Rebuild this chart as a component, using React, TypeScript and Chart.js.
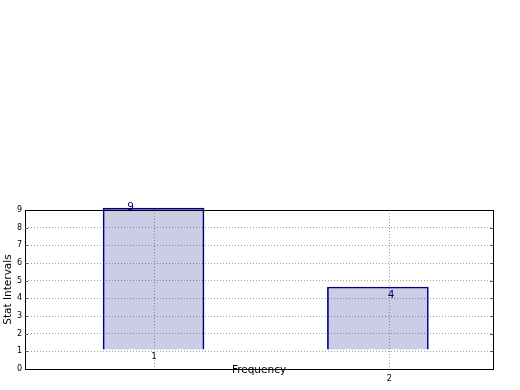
import React, { useEffect, useRef } from 'react';
import { Chart, registerables } from 'chart.js';

Chart.register(...registerables);

// ---- data ----
const barX = [0.998, 1.951];
const barBase = [1.11, 1.11];
const barTop = [9.11, 4.64];
const valueLabels = ['9', '4'];
const valueLabelX = [0.886, 1.993];
const valueLabelY = [9, 4];
const xTicks = [1, 2];
const xTickLabels = ['1', '2'];
const yMin = 0;
const yMax = 9;
const xMin = 0.452;
const xMax = 2.44;

const FONT = "'DejaVu Sans', 'Liberation Sans', sans-serif";

export default function App() {
  const ref = useRef<HTMLCanvasElement>(null);

  useEffect(() => {
    const canvas = ref.current;
    if (!canvas) return;

    const overlay = {
      id: 'overlay',
      afterDatasetsDraw(chart: any) {
        const { ctx, chartArea: a, scales } = chart;
        const xs = scales.x;
        const ys = scales.y;
        ctx.save();
        // frame
        ctx.strokeStyle = '#000';
        ctx.lineWidth = 1;
        ctx.setLineDash([]);
        const L = Math.round(a.left), T = Math.round(a.top);
        const R = Math.round(a.right), B = Math.round(a.bottom);
        ctx.strokeRect(L + 0.5, T + 0.5, R - L, B - T);
        // inward y tick marks
        ctx.strokeStyle = '#555';
        ys.ticks.forEach((t: any) => {
          if (t.value === yMin || t.value === yMax) return;
          const py = Math.round(ys.getPixelForValue(t.value)) + 0.5;
          ctx.beginPath();
          ctx.moveTo(L, py);
          ctx.lineTo(L + 3, py);
          ctx.moveTo(R - 3, py);
          ctx.lineTo(R, py);
          ctx.stroke();
        });
        // value labels
        ctx.fillStyle = '#000080';
        ctx.font = `10.5px ${FONT}`;
        ctx.textAlign = 'left';
        ctx.textBaseline = 'alphabetic';
        valueLabels.forEach((txt, i) => {
          ctx.fillText(txt, xs.getPixelForValue(valueLabelX[i]), ys.getPixelForValue(valueLabelY[i]));
        });
        // x tick labels
        ctx.fillStyle = '#000';
        ctx.font = `8px ${FONT}`;
        ctx.textAlign = 'center';
        ctx.textBaseline = 'middle';
        xTickLabels.forEach((txt, i) => {
          const px = xs.getPixelForValue(xTicks[i]);
          const py = i === 0 ? ys.getPixelForValue(barBase[0]) + 7.6 : a.bottom + 10;
          ctx.fillText(txt, px, py);
        });
        ctx.restore();
      },
    };

    const chart = new Chart(canvas, {
      type: 'bar',
      data: {
        datasets: [
          {
            data: barX.map((x, i) => ({ x, y: [barBase[i], barTop[i]] })) as any,
            backgroundColor: 'rgba(0,0,128,0.2)',
            borderColor: '#000080',
            borderWidth: 1,
            borderSkipped: 'start',
            barThickness: 101,
            clip: false as any,
          },
        ],
      },
      options: {
        animation: false,
        responsive: false,
        devicePixelRatio: 1,
        layout: { padding: { left: 0, right: 27, top: 210, bottom: 0 } },
        plugins: {
          legend: { display: false },
          tooltip: { enabled: false },
        },
        scales: {
          x: {
            type: 'linear',
            min: xMin,
            max: xMax,
            offset: false,
            z: 1,
            afterBuildTicks: (s: any) => {
              s.ticks = xTicks.map((v) => ({ value: v }));
            },
            afterFit: (s: any) => {
              s.height = 21;
            },
            ticks: { display: false },
            grid: {
              offset: false,
              color: '#a0a0a0',
              lineWidth: 1,
              drawTicks: true,
              tickLength: 3,
              tickColor: '#a0a0a0',
              tickBorderDash: [1, 2],
            },
            border: { display: false, dash: [1, 2] },
            title: {
              display: true,
              text: 'Frequency',
              color: '#000',
              font: { family: FONT, size: 10.5 },
              padding: { top: 0, bottom: 13.7 },
            },
          },
          y: {
            type: 'linear',
            min: yMin,
            max: yMax,
            z: 1,
            afterFit: (s: any) => {
              s.width = 25;
            },
            ticks: {
              stepSize: 1,
              color: '#000',
              padding: 3,
              font: { family: FONT, size: 8 },
            },
            grid: {
              drawTicks: false,
              lineWidth: 1,
              color: (c: any) =>
                c.tick && (c.tick.value === yMin || c.tick.value === yMax) ? 'rgba(0,0,0,0)' : '#a0a0a0',
            },
            border: { display: false, dash: [1, 2] },
            title: {
              display: true,
              text: 'Stat Intervals',
              color: '#000',
              font: { family: FONT, size: 10.5 },
              padding: { top: 2, bottom: 0 },
            },
          },
        },
      },
      plugins: [overlay],
    });

    return () => chart.destroy();
  }, []);

  return (
    <div style={{ position: 'absolute', left: 0, top: 0, width: 520, height: 390, background: '#fff' }}>
      <canvas ref={ref} width={520} height={390} style={{ display: 'block' }} />
    </div>
  );
}
